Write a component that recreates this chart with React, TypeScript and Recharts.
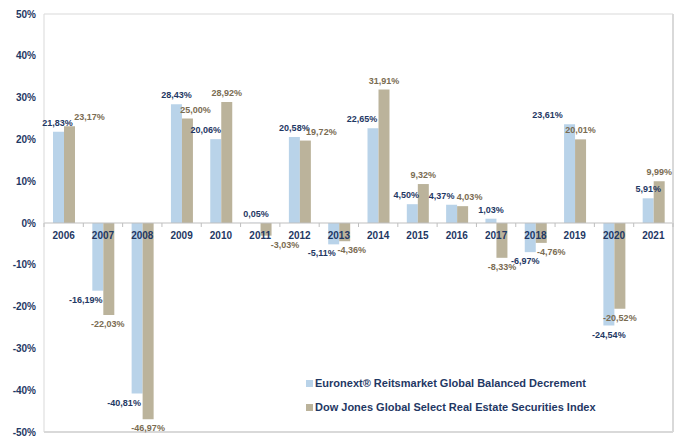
import React from 'react';
import {
  BarChart,
  Bar,
  XAxis,
  YAxis,
  CartesianGrid,
  ReferenceLine,
  LabelList,
} from 'recharts';

const years = [
  '2006', '2007', '2008', '2009', '2010', '2011', '2012', '2013',
  '2014', '2015', '2016', '2017', '2018', '2019', '2020', '2021',
];

const euronext = [
  21.83, -16.19, -40.81, 28.43, 20.06, 0.05, 20.58, -5.11,
  22.65, 4.5, 4.37, 1.03, -6.97, 23.61, -24.54, 5.91,
];

const dowJones = [
  23.17, -22.03, -46.97, 25.0, 28.92, -3.03, 19.72, -4.36,
  31.91, 9.32, 4.03, -8.33, -4.76, 20.01, -20.52, 9.99,
];

const yTicks = [50, 40, 30, 20, 10, 0, -10, -20, -30, -40, -50];

const seriesNames = [
  'Euronext® Reitsmarket Global Balanced Decrement',
  'Dow Jones Global Select Real Estate Securities Index',
];

// horizontal nudges for the value labels, as placed in the original
const euronextLabelDx = [-1, -12, -13, 0, -10, 1, 0, -12, -11, -6, -10, 0, -5, -22, 0, 0];
const dowLabelDx = [20, -1, 0, 8, 0, 19, 16, 7, 0, 0, 7, 0, 10, 0, 0, 0];

const BLUE = '#b9d3e9';
const TAN = '#bbb39b';
const NAVY = '#1f3864';
const BROWN = '#7a6c52';
const GRID = '#d9d9d9';
const FONT = '"Liberation Sans", Arial, sans-serif';

const W = 677;
const H = 440;
const X_H = 8;
const M = { top: 14, right: 0, bottom: 0, left: 0 };
const PLOT_H = H - M.top - M.bottom - X_H;
const ZERO_Y = M.top + PLOT_H / 2;
const PLOT_W = W - 44 - 4;
const BAND = PLOT_W / years.length;

const data = years.map((year, i) => ({
  year,
  euronext: euronext[i],
  dowJones: dowJones[i],
}));

const fmt = (v: number) => `${v.toFixed(2).replace('.', ',')}%`;

function makeLabel(color: string, nudges: number[]) {
  return (props: any) => {
    const { x, y, width, height, value, index } = props;
    const top = Math.min(y, y + height);
    const bottom = Math.max(y, y + height);
    const cx = x + width / 2 + (nudges[index] || 0);
    const ty = value >= 0 ? top - 6 : bottom + 12;
    return (
      <text
        x={cx}
        y={ty}
        textAnchor="middle"
        fill={color}
        fontSize={9}
        fontWeight="bold"
        fontFamily={FONT}
      >
        {fmt(value)}
      </text>
    );
  };
}

function CategoryTick(props: any) {
  const { x, payload, index } = props;
  // the axis sits at the bottom; its labels are drawn just under the zero line
  const left = x - BAND / 2;
  return (
    <g>
      <line x1={left} x2={left} y1={ZERO_Y} y2={ZERO_Y + 4} stroke="#bfbfbf" />
      {index === years.length - 1 && (
        <line x1={x + BAND / 2} x2={x + BAND / 2} y1={ZERO_Y} y2={ZERO_Y + 4} stroke="#bfbfbf" />
      )}
      <text
        x={x}
        y={ZERO_Y + 16}
        textAnchor="middle"
        fill={NAVY}
        fontSize={10}
        fontWeight="bold"
        fontFamily={FONT}
      >
        {payload.value}
      </text>
    </g>
  );
}

export default function App() {
  return (
    <div style={{ position: 'absolute', left: 0, top: 0, width: W, height: H, background: '#fff' }}>
      <BarChart width={W} height={H} data={data} margin={M} barGap={0} barSize={11}>
        <CartesianGrid horizontal vertical={false} stroke={GRID} />
        <XAxis
          dataKey="year"
          axisLine={false}
          tickLine={false}
          height={X_H}
          interval={0}
          tick={<CategoryTick />}
        />
        <YAxis
          yAxisId="left"
          domain={[-50, 50]}
          ticks={yTicks}
          tickFormatter={(v) => `${v}%`}
          width={44}
          axisLine={{ stroke: GRID }}
          tickLine={false}
          tick={{ fill: NAVY, fontSize: 10, fontWeight: 'bold', fontFamily: FONT }}
        />
        <YAxis
          yAxisId="right"
          orientation="right"
          domain={[-50, 50]}
          ticks={yTicks}
          width={4}
          axisLine={{ stroke: GRID, strokeWidth: 2 }}
          tickLine={false}
          tick={false}
        />
        <ReferenceLine yAxisId="left" y={-50} stroke={GRID} strokeWidth={2} />
        <ReferenceLine yAxisId="left" y={0} stroke="#bfbfbf" />
        <Bar yAxisId="left" dataKey="euronext" fill={BLUE} isAnimationActive={false}>
          <LabelList dataKey="euronext" content={makeLabel(NAVY, euronextLabelDx)} />
        </Bar>
        <Bar yAxisId="left" dataKey="dowJones" fill={TAN} isAnimationActive={false}>
          <LabelList dataKey="dowJones" content={makeLabel(BROWN, dowLabelDx)} />
        </Bar>
      </BarChart>
      <div
        style={{
          position: 'absolute',
          left: 306,
          top: 371,
          fontFamily: FONT,
          fontSize: 11,
          fontWeight: 'bold',
          color: NAVY,
          lineHeight: '24px',
        }}
      >
        {seriesNames.map((name, i) => (
          <div key={name} style={{ display: 'flex', alignItems: 'center', whiteSpace: 'nowrap' }}>
            <span
              style={{
                display: 'inline-block',
                width: 7,
                height: 7,
                background: i === 0 ? BLUE : TAN,
                marginRight: 2,
              }}
            />
            {name}
          </div>
        ))}
      </div>
    </div>
  );
}
